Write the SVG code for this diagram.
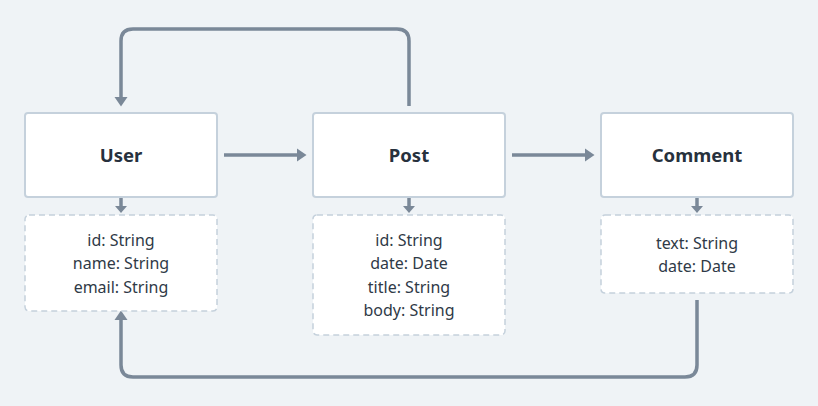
<svg xmlns="http://www.w3.org/2000/svg" width="818" height="406" viewBox="0 0 818 406">
<style>
.node{fill:#ffffff;stroke:#c5d1dc;stroke-width:2}
.attr{fill:#ffffff;stroke:#c5d1dc;stroke-width:1.5;stroke-dasharray:6 4}
.title{font-family:"Noto Sans","Liberation Sans",sans-serif;font-weight:bold;font-size:18.5px;fill:#27313d;text-anchor:middle}
.field{font-family:"Noto Sans","Liberation Sans",sans-serif;font-size:16px;fill:#2f3a47;text-anchor:middle}
.conn{fill:none;stroke:#7a8898;stroke-width:3.5}
</style>
<defs>
<marker id="ah" markerUnits="userSpaceOnUse" markerWidth="12" markerHeight="16" refX="0" refY="7" orient="auto" viewBox="0 0 12 14">
<path d="M0,0.5 L9.5,7 L0,13.5 Z" fill="#7a8898"/>
</marker>
<marker id="ahs" markerUnits="userSpaceOnUse" markerWidth="10" markerHeight="14" refX="0" refY="6" orient="auto" viewBox="0 0 10 12">
<path d="M0,0 L7,6 L0,12 Z" fill="#7a8898"/>
</marker>
</defs>
<rect width="818" height="406" fill="#eff3f6"/>
<g id="connectors">
<path class="conn" d="M224,155 H297" marker-end="url(#ah)"/>
<path class="conn" d="M512,155 H585" marker-end="url(#ah)"/>
<path class="conn" d="M409,106 V41 Q409,29 397,29 H133 Q121,29 121,41 V97" marker-end="url(#ah)"/>
<path class="conn" d="M697,300 V365 Q697,377 685,377 H133 Q121,377 121,365 V320" marker-end="url(#ah)"/>
<path class="conn" d="M121,198 V206" marker-end="url(#ahs)"/>
<path class="conn" d="M409,198 V206" marker-end="url(#ahs)"/>
<path class="conn" d="M697,198 V206" marker-end="url(#ahs)"/>
</g>
<g id="user">
<rect class="node" x="25" y="113" width="192" height="84" rx="3"/>
<text class="title" x="121" y="161.5">User</text>
</g>
<g id="user-fields">
<rect class="attr" x="25" y="215" width="192" height="96" rx="4"/>
<text class="field" x="121" y="245.5">id: String</text>
<text class="field" x="121" y="269">name: String</text>
<text class="field" x="121" y="292.5">email: String</text>
</g>
<g id="post">
<rect class="node" x="313" y="113" width="192" height="84" rx="3"/>
<text class="title" x="409" y="161.5">Post</text>
</g>
<g id="post-fields">
<rect class="attr" x="313" y="215" width="192" height="120" rx="4"/>
<text class="field" x="409" y="245.5">id: String</text>
<text class="field" x="409" y="269">date: Date</text>
<text class="field" x="409" y="292.5">title: String</text>
<text class="field" x="409" y="316">body: String</text>
</g>
<g id="comment">
<rect class="node" x="601" y="113" width="192" height="84" rx="3"/>
<text class="title" x="697" y="161.5">Comment</text>
</g>
<g id="comment-fields">
<rect class="attr" x="601" y="215" width="192" height="78" rx="4"/>
<text class="field" x="697" y="248.5">text: String</text>
<text class="field" x="697" y="272">date: Date</text>
</g>
</svg>
